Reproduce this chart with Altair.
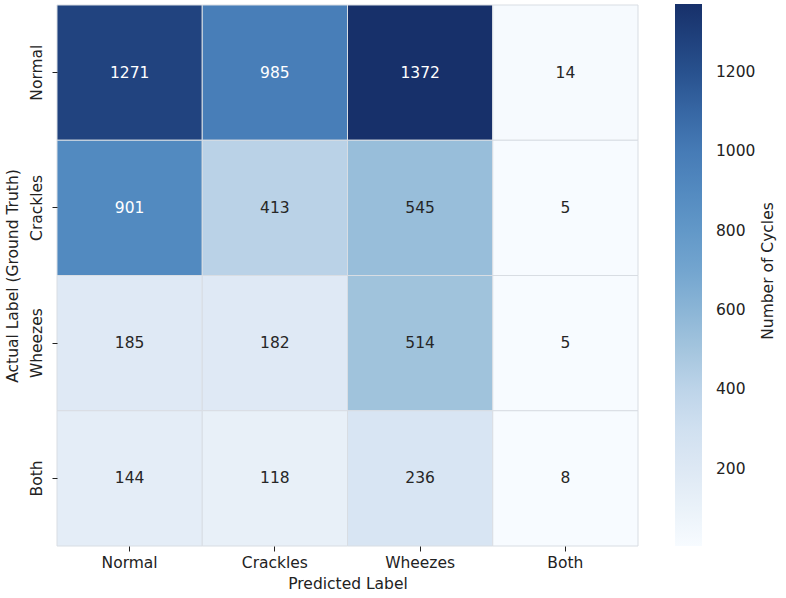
import altair as alt
import pandas as pd
import numpy as np

labels = ["Normal", "Crackles", "Wheezes", "Both"]
row_normal = [1271, 985, 1372, 14]
row_crackles = [901, 413, 545, 5]
row_wheezes = [185, 182, 514, 5]
row_both = [144, 118, 236, 8]
colorbar_ticks = [200, 400, 600, 800, 1000, 1200]

rows = [row_normal, row_crackles, row_wheezes, row_both]
records = []
for actual, vals in zip(labels, rows):
    for pred, v in zip(labels, vals):
        records.append({"actual": actual, "predicted": pred, "value": v})
df = pd.DataFrame(records)

vmin, vmax = df["value"].min(), df["value"].max()
blues = ["#f7fbff", "#e0eaf5", "#cadcee", "#9fc2dc", "#75a6d0",
         "#5890c4", "#4277b3", "#28518e", "#17306a"]
stops = list(np.linspace(vmin, vmax, len(blues)))

FONT = "DejaVu Sans"
FS = 15.5
TXT = "#222222"

base = alt.Chart(df)

xenc = alt.X("predicted:N", sort=labels, title="Predicted Label",
             scale=alt.Scale(paddingInner=0, paddingOuter=0),
             axis=alt.Axis(labelAngle=0, domain=False, tickSize=5, tickColor=TXT,
                           labelPadding=4, titlePadding=6, labelFont=FONT, titleFont=FONT,
                           labelFontSize=FS, titleFontSize=FS, titleFontWeight="normal",
                           labelColor=TXT, titleColor=TXT))
yenc = alt.Y("actual:N", sort=labels, title="Actual Label (Ground Truth)",
             scale=alt.Scale(paddingInner=0, paddingOuter=0),
             axis=alt.Axis(labelAngle=270, labelAlign="center", labelBaseline="bottom",
                           domain=False, tickSize=5, tickColor=TXT, labelPadding=8,
                           titlePadding=9, labelFont=FONT, titleFont=FONT,
                           labelFontSize=FS, titleFontSize=FS, titleFontWeight="normal",
                           labelColor=TXT, titleColor=TXT))

rect = base.mark_rect(stroke="#d8dde3", strokeWidth=1).encode(
    x=xenc, y=yenc,
    color=alt.Color("value:Q",
                    scale=alt.Scale(domain=stops, range=blues, type="linear"),
                    legend=alt.Legend(orient="none", legendX=618, legendY=-1,
                                      direction="vertical", title=None, format="d",
                                      gradientLength=542, gradientThickness=27,
                                      gradientStrokeWidth=0, values=colorbar_ticks,
                                      labelFont=FONT, labelFontSize=FS, labelColor=TXT,
                                      labelOffset=14, labelOverlap=False)),
)

text = base.mark_text(font=FONT, fontSize=FS).encode(
    x=alt.X("predicted:N", sort=labels),
    y=alt.Y("actual:N", sort=labels),
    text=alt.Text("value:Q", format="d"),
    color=alt.condition(alt.datum.value > 700, alt.value("white"), alt.value("#262626")),
)

cbar_title = alt.Chart(pd.DataFrame({"t": ["Number of Cycles"]})).mark_text(
    font=FONT, fontSize=FS, angle=270, color=TXT
).encode(text="t:N", x=alt.value(711), y=alt.value(266))

chart = alt.layer(rect, text, cbar_title).properties(
    width=581, height=541,
    padding={"left": 57, "top": 5, "right": 148, "bottom": 52},
    autosize=alt.AutoSizeParams(type="none"),
).configure_view(stroke=None)

chart.save("out.html", embed_options={"renderer": "svg", "actions": False})
